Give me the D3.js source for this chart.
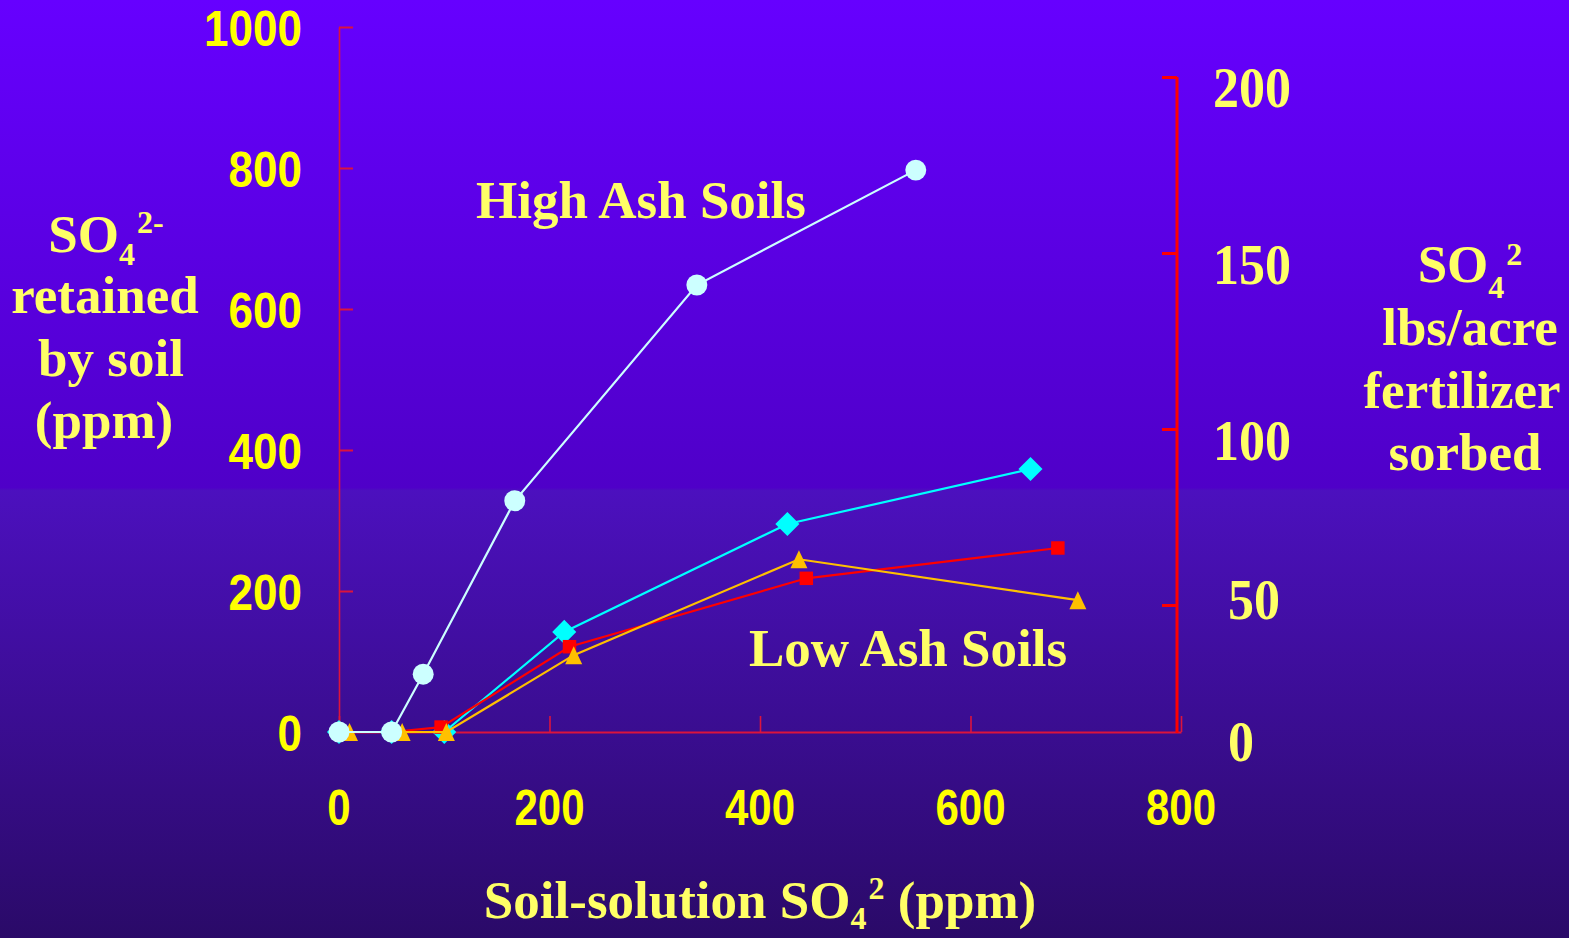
<!DOCTYPE html>
<html>
<head>
<meta charset="utf-8">
<script src="https://cdn.jsdelivr.net/npm/d3@7"></script>
<style>
  html, body { margin: 0; padding: 0; background: #2a0a68; }
  svg { display: block; }
  .serif { font-family: "Liberation Serif", "Times New Roman", serif; font-weight: bold; }
  .sans { font-family: "Liberation Sans", Arial, sans-serif; font-weight: bold; }
</style>
</head>
<body>
<svg id="chart" width="1569" height="938"></svg>
<script>
// ---------- data ----------
const xTicks = [0, 200, 400, 600, 800];
const yLeftTicks = [0, 200, 400, 600, 800, 1000];
const yRightTicks = [0, 50, 100, 150, 200];

const highAshX = [0, 50, 80, 167, 340, 548];
const highAshY = [0, 0, 82, 328, 634, 797];

const lowAshDiamondX = [0, 50, 100, 214, 426, 657];
const lowAshDiamondY = [0, 0, 0, 142, 295, 373];

const lowAshSquareX = [0, 50, 97, 219, 444, 683];
const lowAshSquareY = [0, 0, 7, 121, 218, 261];

const lowAshTriangleX = [10, 60, 102, 223, 437, 702];
const lowAshTriangleY = [0, 0, 0, 109, 245, 187];

const highAshLabel = "High Ash Soils";
const lowAshLabel = "Low Ash Soils";

// ---------- layout ----------
const W = 1569, H = 938;
const svg = d3.select("#chart");

const defs = svg.append("defs");
const grad = defs.append("linearGradient").attr("id", "bg")
  .attr("x1", 0).attr("y1", 0).attr("x2", 0).attr("y2", 1);
[[0, "#6600FF"], [0.52, "#4F00C8"], [0.523, "#4C10BE"], [1, "#2A0A68"]]
  .forEach(([o, c]) => grad.append("stop").attr("offset", o).attr("stop-color", c));
svg.append("rect").attr("width", W).attr("height", H).attr("fill", "url(#bg)");

const x = d3.scaleLinear().domain([0, 800]).range([339, 1181]);
const yL = d3.scaleLinear().domain([0, 1000]).range([732, 27]);
const yR = d3.scaleLinear().domain([0, 200]).range([781, 77]);

const axisColor = "#DC143C";

// left axis (ticks inward)
const gL = svg.append("g").attr("transform", "translate(339,0)")
  .call(d3.axisRight(yL).tickValues(yLeftTicks).tickSize(14).tickSizeOuter(0).tickFormat(""));
gL.select(".domain").attr("stroke", axisColor).attr("stroke-width", 1.6);
gL.selectAll(".tick line").attr("stroke", axisColor).attr("stroke-width", 2);

// bottom axis (ticks inward)
const gX = svg.append("g").attr("transform", "translate(0,732)")
  .call(d3.axisTop(x).tickValues(xTicks).tickSize(16).tickSizeOuter(0).tickFormat(""));
gX.select(".domain").attr("stroke", axisColor).attr("stroke-width", 2);
gX.selectAll(".tick line").attr("stroke", axisColor).attr("stroke-width", 1.6);

// right axis
const gR = svg.append("g").attr("transform", "translate(1177,0)")
  .call(d3.axisLeft(yR).tickValues(yRightTicks.filter(v => v > 0)).tickSize(15).tickSizeOuter(0).tickFormat(""));
gR.select(".domain").remove();
gR.selectAll(".tick line").attr("stroke", "#FF0000").attr("stroke-width", 3);
svg.append("line").attr("x1", 1177).attr("x2", 1177)
  .attr("y1", yR(200)).attr("y2", yL(0) + 1)
  .attr("stroke", "#FF0000").attr("stroke-width", 3);

// tick labels
svg.append("g").selectAll("text").data(yLeftTicks).join("text")
  .attr("class", "sans").attr("fill", "#FFFF00").attr("font-size", 44)
  .attr("text-anchor", "end")
  .attr("transform", d => `translate(302,${yL(d) + 1}) scale(1,1.14)`)
  .attr("dy", "0.358em").text(d => d);

svg.append("g").selectAll("text").data(xTicks).join("text")
  .attr("class", "sans").attr("fill", "#FFFF00").attr("font-size", 42)
  .attr("text-anchor", "middle")
  .attr("transform", d => `translate(${x(d)},807) scale(1,1.17)`)
  .attr("dy", "0.358em").text(d => d);

const rightNudge = {200: [1252, 11], 150: [1252, 12], 100: [1252, 12], 50: [1254, -5], 0: [1241, -39]};
svg.append("g").selectAll("text").data(yRightTicks).join("text")
  .attr("class", "serif").attr("fill", "#FFFF66").attr("font-size", 52)
  .attr("text-anchor", "middle")
  .attr("transform", d => `translate(${rightNudge[d][0]},${yR(d) + rightNudge[d][1]}) scale(1,1.1)`)
  .attr("dy", "0.338em").text(d => d);

// ---------- series ----------
const triangleType = {
  draw(ctx, size) {
    const w = 8.5, h = 9;
    ctx.moveTo(0, -h); ctx.lineTo(w, h); ctx.lineTo(-w, h); ctx.closePath();
  }
};
const series = [
  {xs: lowAshDiamondX, ys: lowAshDiamondY, color: "#00FFFF", sym: d3.symbolSquare, size: 290, rot: 45},
  {xs: lowAshSquareX, ys: lowAshSquareY, color: "#FF0000", sym: d3.symbolSquare, size: 182, rot: 0},
  {xs: lowAshTriangleX, ys: lowAshTriangleY, color: "#FFC000", sym: triangleType, size: 1, rot: 0},
  {xs: highAshX, ys: highAshY, color: "#CCFFFF", sym: d3.symbolCircle, size: Math.PI * 110, rot: 0}
];
const line = d3.line().x(d => x(d[0])).y(d => yL(d[1]));
series.forEach(s => {
  const pts = s.xs.map((v, i) => [v, s.ys[i]]);
  const g = svg.append("g");
  g.append("path").attr("d", line(pts)).attr("fill", "none")
    .attr("stroke", s.color).attr("stroke-width", 2.2);
  g.selectAll("path.m").data(pts).join("path").attr("class", "m")
    .attr("d", d3.symbol().type(s.sym).size(s.size)())
    .attr("transform", d => `translate(${x(d[0])},${yL(d[1])}) rotate(${s.rot})`)
    .attr("fill", s.color);
});

// ---------- titles ----------
const ty = "#FFFF66";
svg.append("text").attr("class", "serif").attr("fill", ty).attr("font-size", 53)
  .attr("x", 476).attr("y", 218).text(highAshLabel);
svg.append("text").attr("class", "serif").attr("fill", ty).attr("font-size", 53)
  .attr("x", 749).attr("y", 666).text(lowAshLabel);

// SO4 with sub/superscript
function so4(t, sub, sup, subDy, supDy, supDx) {
  t.append("tspan").text("SO");
  t.append("tspan").attr("font-size", 32).attr("dy", subDy).text(sub);
  t.append("tspan").attr("font-size", 32).attr("dx", supDx).attr("dy", supDy).text(sup);
}
const lt = svg.append("g").attr("class", "serif").attr("fill", ty).attr("font-size", 53).attr("text-anchor", "middle");
so4(lt.append("text").attr("x", 106).attr("y", 252), "4", "2-", 13, -32, 2);
lt.append("text").attr("x", 105).attr("y", 313).text("retained");
lt.append("text").attr("x", 111).attr("y", 376).text("by soil");
lt.append("text").attr("x", 104).attr("y", 438).text("(ppm)");

// right title
const rt = svg.append("g").attr("class", "serif").attr("fill", ty).attr("font-size", 53).attr("text-anchor", "middle");
so4(rt.append("text").attr("x", 1470).attr("y", 282), "4", "2", 16, -33, 2);
rt.append("text").attr("x", 1470).attr("y", 345).text("lbs/acre");
rt.append("text").attr("x", 1462).attr("y", 408).text("fertilizer");
rt.append("text").attr("x", 1465).attr("y", 470).text("sorbed");

// bottom title
const bt = svg.append("text").attr("class", "serif").attr("fill", ty).attr("font-size", 53)
  .attr("text-anchor", "middle").attr("x", 760).attr("y", 918);
bt.append("tspan").text("Soil-solution SO");
bt.append("tspan").attr("font-size", 32).attr("dy", 11).text("4");
bt.append("tspan").attr("font-size", 32).attr("dx", 2).attr("dy", -30).text("2");
bt.append("tspan").attr("dy", 19).text(" (ppm)");
</script>
</body>
</html>
